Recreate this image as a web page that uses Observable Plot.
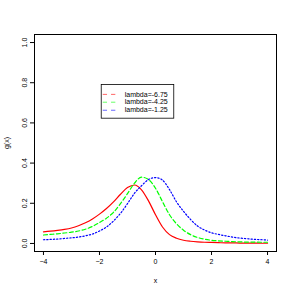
<!DOCTYPE html>
<html><head><meta charset="utf-8">
<script src="https://cdn.jsdelivr.net/npm/d3@7"></script>
<script src="https://cdn.jsdelivr.net/npm/@observablehq/plot@0.6"></script>
<style>body{margin:0;background:#fff}</style>
</head><body><div id="chart"></div><script>
const xs = [-4,-3.75,-3.5,-3.25,-3,-2.75,-2.5,-2.25,-2,-1.75,-1.5,-1.25,-1,-0.75,-0.5,-0.25,0,0.25,0.5,0.75,1,1.25,1.5,1.75,2,2.25,2.5,2.75,3,3.25,3.5,3.75,4];
const gRed   = [0.058,0.061,0.065,0.070,0.077,0.088,0.103,0.122,0.146,0.174,0.207,0.245,0.278,0.291,0.267,0.212,0.143,0.082,0.044,0.026,0.016,0.011,0.008,0.006,0.005,0.004,0.003,0.003,0.002,0.002,0.002,0.001,0.001];
const gGreen = [0.042,0.045,0.048,0.052,0.056,0.062,0.071,0.085,0.104,0.126,0.155,0.198,0.248,0.300,0.330,0.318,0.275,0.208,0.143,0.098,0.066,0.044,0.030,0.021,0.016,0.013,0.011,0.009,0.008,0.007,0.007,0.006,0.006];
const gBlue  = [0.0185,0.020,0.022,0.025,0.028,0.032,0.038,0.047,0.062,0.082,0.112,0.150,0.198,0.250,0.287,0.318,0.328,0.315,0.268,0.207,0.160,0.120,0.087,0.067,0.053,0.045,0.038,0.032,0.027,0.024,0.021,0.019,0.017];
const labels = ["lambda=-6.75","lambda=-4.25","lambda=-1.25"];
const colors = ["#FF0000","#00FF00","#0000FF"];
const dashes = [null,"4,2.5","1.3,2"];
const xTicks = [-4,-2,0,2,4];
const yTicks = [0,0.2,0.4,0.6,0.8,1.0];

const series = [gRed,gGreen,gBlue];
const data = [];
series.forEach((s,i)=>xs.forEach((x,j)=>data.push({x, y:s[j], k:i})));
const legendRows = labels.map((l,i)=>({l, i, y:[0.742,0.703,0.663][i]}));

const lineMarks = series.map((s,i)=>Plot.line(data.filter(d=>d.k===i),{x:"x",y:"y",curve:"monotone-x",stroke:colors[i],strokeWidth:1.2,strokeDasharray:dashes[i]}));

const chart = Plot.plot({
  width:294, height:294,
  marginLeft:34, marginRight:18, marginTop:34, marginBottom:43,
  style:{fontFamily:"'Liberation Sans', Arial, sans-serif", fontSize:"7px", background:"white", color:"black"},
  x:{domain:[-4.32,4.32]},
  y:{domain:[-0.04,1.04]},
  marks:[
    Plot.frame({stroke:"black"}),
    Plot.axisX({ticks:xTicks, tickSize:4, tickPadding:4, label:"x", labelAnchor:"center", labelArrow:"none", labelOffset:31, fontSize:7}),
    Plot.axisY({ticks:yTicks, tickFormat:d=>d.toFixed(1), tickSize:4, tickPadding:4, tickRotate:-90, label:"g(x)", labelAnchor:"center", labelArrow:"none", labelOffset:30, fontSize:7}),
    ...lineMarks,
    Plot.rect([0],{x1:-1.92,x2:0.67,y1:0.621,y2:0.789,fill:"white",stroke:"black",strokeWidth:0.8}),
    Plot.ruleY(legendRows,{y:"y",x1:-1.866,x2:-1.40,stroke:d=>colors[d.i],strokeDasharray:"4.3,4",strokeWidth:1,strokeOpacity:0.6}),
    Plot.text(legendRows,{x:-1.10,y:"y",text:"l",textAnchor:"start",fontSize:7,fill:"black"})
  ]
});
document.getElementById("chart").appendChild(chart);
</script></body></html>
